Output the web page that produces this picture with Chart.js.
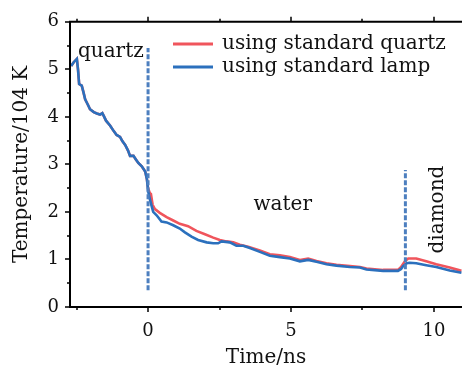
<!DOCTYPE html>
<html>
<head>
<meta charset="utf-8">
<script src="https://cdn.jsdelivr.net/npm/chart.js@4.4.1/dist/chart.umd.min.js"></script>
<style>
  html, body { margin: 0; padding: 0; background: #fff; }
  canvas { display: block; }
</style>
</head>
<body>
<canvas id="tempChart" width="462" height="370"></canvas>
<script>
// Temperature history (10^4 K) vs time (ns)
const lampTime = [-2.69, -2.6, -2.49, -2.45, -2.41, -2.32, -2.26, -2.2, -2.1, -2.03, -1.9, -1.79, -1.68, -1.6, -1.55,
  -1.47, -1.33, -1.2, -1.1, -0.98, -0.9, -0.8, -0.7, -0.63, -0.51, -0.42, -0.34, -0.22, -0.1, -0.04,
  0.0, 0.05, 0.1, 0.18, 0.3, 0.47, 0.65, 0.88, 1.11, 1.29, 1.52, 1.75, 2.05, 2.28, 2.45, 2.57, 2.86,
  3.09, 3.33, 3.56, 3.91, 4.26, 4.61, 4.96, 5.31, 5.6, 5.89, 6.24, 6.59, 7.06, 7.41, 7.64, 8.22, 8.74,
  8.85, 8.92, 9.05, 9.15, 9.38, 9.73, 10.08, 10.55, 10.96];
const lampTemp = [5.07, 5.15, 5.22, 5.0, 4.69, 4.66, 4.52, 4.37, 4.25, 4.16, 4.1, 4.07, 4.05, 4.08, 4.02,
  3.92, 3.82, 3.7, 3.62, 3.58, 3.49, 3.41, 3.29, 3.18, 3.18, 3.1, 3.03, 2.96, 2.85, 2.69,
  2.45, 2.3, 2.18, 2.0, 1.93, 1.8, 1.78, 1.72, 1.65, 1.57, 1.48, 1.41, 1.36, 1.34, 1.34, 1.38, 1.36,
  1.29, 1.29, 1.24, 1.16, 1.08, 1.05, 1.02, 0.96, 0.99, 0.95, 0.9, 0.87, 0.84, 0.83, 0.79, 0.76, 0.76,
  0.8, 0.86, 0.92, 0.93, 0.92, 0.88, 0.84, 0.77, 0.72];

// both calibrations coincide inside the quartz window
const quartzTime = [-2.69, -2.6, -2.49, -2.45, -2.41, -2.32, -2.26, -2.2, -2.1, -2.03, -1.9, -1.79, -1.68, -1.6, -1.55,
  -1.47, -1.33, -1.2, -1.1, -0.98, -0.9, -0.8, -0.7, -0.63, -0.51, -0.42, -0.34, -0.22, -0.1, -0.04,
  0.0, 0.06, 0.1, 0.16, 0.24, 0.41, 0.65, 0.88, 1.11, 1.4, 1.69, 1.99, 2.28, 2.51, 2.74, 2.98,
  3.21, 3.5, 3.91, 4.26, 4.61, 4.96, 5.31, 5.6, 5.89, 6.24, 6.59, 7.06, 7.41, 7.64, 8.22, 8.74,
  8.85, 8.98, 9.1, 9.38, 9.73, 10.08, 10.55, 10.96];
const quartzTemp = [5.07, 5.15, 5.22, 5.0, 4.69, 4.66, 4.52, 4.37, 4.25, 4.16, 4.1, 4.07, 4.05, 4.08, 4.02,
  3.92, 3.82, 3.7, 3.62, 3.58, 3.49, 3.41, 3.29, 3.18, 3.18, 3.1, 3.03, 2.96, 2.85, 2.69,
  2.5, 2.4, 2.38, 2.15, 2.06, 1.98, 1.89, 1.82, 1.75, 1.7, 1.6, 1.53, 1.46, 1.41, 1.38, 1.36,
  1.31, 1.27, 1.19, 1.11, 1.09, 1.05, 0.99, 1.02, 0.97, 0.92, 0.89, 0.86, 0.84, 0.81, 0.78, 0.78,
  0.84, 0.96, 1.02, 1.02, 0.96, 0.9, 0.83, 0.76];

// interfaces quartz|water and water|diamond
const interfaceTime = [0, 9];
const interfaceLow = [0.35, 0.35];
const interfaceHigh = [5.45, 2.88];

const seriesNames = ['using standard quartz', 'using standard lamp'];
const xMajor = [0, 5, 10];
const xMinor = [-2.5, 2.5, 7.5];
const yMajor = [0, 1, 2, 3, 4, 5, 6];
const yMinor = [0.5, 1.5, 2.5, 3.5, 4.5, 5.5];

const RED = '#f0555c';
const BLUE = '#2b70bd';
const DASH = '#4d7fbf';
const FONT = 'DejaVu Serif';

const toPoints = (xs, ys) => xs.map((x, i) => ({ x, y: ys[i] }));

const datasets = interfaceTime.map((t, i) => ({
  label: 'interface',
  data: [{ x: t, y: interfaceLow[i] }, { x: t, y: interfaceHigh[i] }],
  borderColor: DASH,
  borderWidth: 3,
  borderDash: [5, 2],
  pointRadius: 0,
  order: 0
}));
datasets.push({
  label: seriesNames[1], data: toPoints(lampTime, lampTemp),
  borderColor: BLUE, borderWidth: 2.6, pointRadius: 0, order: 1
});
datasets.push({
  label: seriesNames[0], data: toPoints(quartzTime, quartzTemp),
  borderColor: RED, borderWidth: 2.6, pointRadius: 0, order: 2
});

// frame, ticks, region labels and legend
const decorations = {
  id: 'decorations',
  afterDraw(chart) {
    const { ctx, chartArea: a, scales: { x, y } } = chart;
    ctx.save();
    ctx.strokeStyle = '#000';
    ctx.lineWidth = 2;
    ctx.beginPath();
    ctx.moveTo(a.left, a.top - 1);
    ctx.lineTo(a.left, a.bottom + 1);
    ctx.moveTo(a.left - 1, a.bottom);
    ctx.lineTo(a.right, a.bottom);
    ctx.moveTo(a.left - 1, a.top);
    ctx.lineTo(a.right, a.top);
    ctx.stroke();

    ctx.lineWidth = 1.5;
    ctx.beginPath();
    xMajor.concat(xMinor).forEach(v => {
      const px = Math.round(x.getPixelForValue(v));
      const len = xMajor.includes(v) ? 5 : 3;
      ctx.moveTo(px, a.bottom);
      ctx.lineTo(px, a.bottom + len);
      ctx.moveTo(px, a.top);
      ctx.lineTo(px, a.top - len);
    });
    yMajor.concat(yMinor).forEach(v => {
      const py = Math.round(y.getPixelForValue(v));
      const len = yMajor.includes(v) ? 5 : 3;
      ctx.moveTo(a.left, py);
      ctx.lineTo(a.left - len, py);
    });
    ctx.stroke();

    ctx.fillStyle = '#111';
    ctx.font = '20px "' + FONT + '"';
    ctx.textBaseline = 'alphabetic';
    ctx.textAlign = 'left';
    ctx.fillText('quartz', x.getPixelForValue(-2.45), y.getPixelForValue(5.26));
    ctx.textAlign = 'center';
    ctx.fillText('water', x.getPixelForValue(4.71), y.getPixelForValue(2.04));
    ctx.save();
    ctx.translate(x.getPixelForValue(10.31), y.getPixelForValue(2.05));
    ctx.rotate(-Math.PI / 2);
    ctx.fillText('diamond', 0, 0);
    ctx.restore();

    // legend
    const rows = [{ c: RED, t: seriesNames[0], ly: 44 }, { c: BLUE, t: seriesNames[1], ly: 67 }];
    ctx.textAlign = 'left';
    rows.forEach(r => {
      ctx.strokeStyle = r.c;
      ctx.lineWidth = 3;
      ctx.beginPath();
      ctx.moveTo(173, r.ly);
      ctx.lineTo(213, r.ly);
      ctx.stroke();
      ctx.fillText(r.t, 222, r.ly + 4.5);
    });
    ctx.restore();
  }
};

new Chart(document.getElementById('tempChart'), {
  type: 'line',
  data: { datasets },
  options: {
    responsive: false,
    animation: false,
    layout: { padding: { top: 16, right: 0, left: 0, bottom: 0 } },
    plugins: { legend: { display: false }, tooltip: { enabled: false } },
    scales: {
      x: {
        type: 'linear',
        min: -2.73,
        max: 10.98,
        afterBuildTicks: s => { s.ticks = xMajor.concat(xMinor).sort((p, q) => p - q).map(v => ({ value: v })); },
        afterFit: s => { s.height = 63; },
        grid: { display: false, drawTicks: false },
        border: { display: false },
        ticks: {
          color: '#111', padding: 14, maxRotation: 0, autoSkip: false,
          font: { family: FONT, size: 18 },
          callback: v => (xMajor.includes(v) ? String(v) : '')
        },
        title: {
          display: true, text: 'Time/ns', color: '#111',
          font: { family: FONT, size: 20 }, padding: { top: 0, bottom: 0 }
        }
      },
      y: {
        min: 0,
        max: 6,
        afterBuildTicks: s => { s.ticks = yMajor.map(v => ({ value: v })); },
        afterFit: s => { s.width = 70; },
        grid: { display: false, drawTicks: false },
        border: { display: false },
        ticks: { color: '#111', padding: 11, font: { family: FONT, size: 18 } },
        title: {
          display: true, text: 'Temperature/104 K', color: '#111',
          font: { family: FONT, size: 20 }, padding: { top: 10, bottom: 0 }
        }
      }
    }
  },
  plugins: [decorations]
});
</script>
</body>
</html>
